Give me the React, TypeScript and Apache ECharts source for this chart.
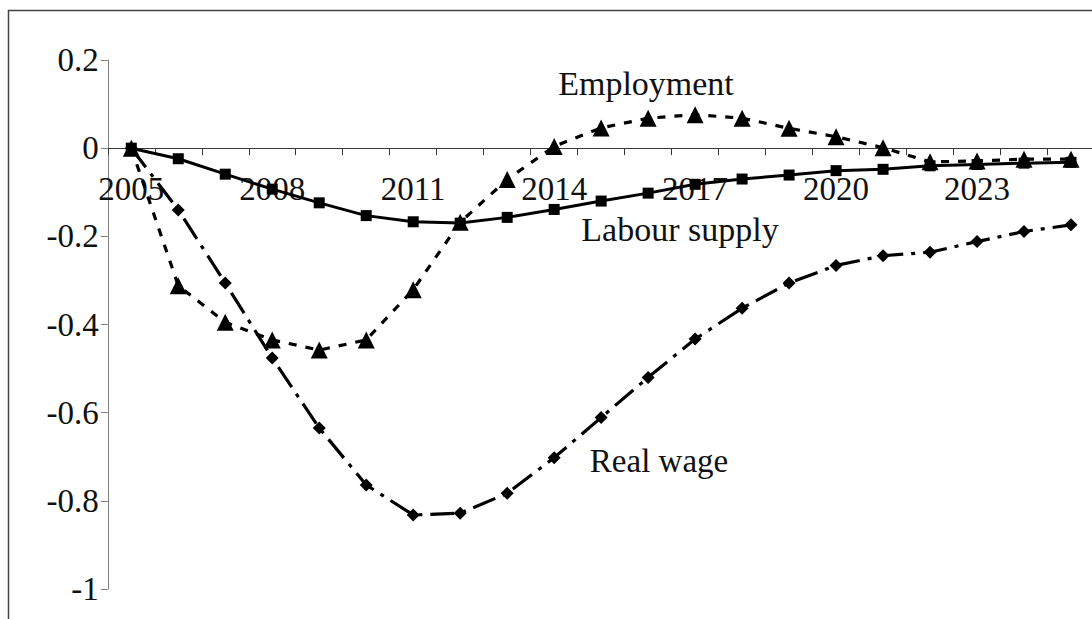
import React, { useEffect, useRef } from "react";
import * as echarts from "echarts";

const years = [
  "2005", "2006", "2007", "2008", "2009", "2010", "2011", "2012", "2013", "2014",
  "2015", "2016", "2017", "2018", "2019", "2020", "2021", "2022", "2023", "2024", "2025",
];

const labourSupply = [
  0, -0.024, -0.059, -0.093, -0.124, -0.153, -0.167, -0.17, -0.157, -0.139,
  -0.12, -0.102, -0.082, -0.07, -0.061, -0.051, -0.048, -0.04, -0.037, -0.034, -0.032,
];

const employment = [
  0, -0.312, -0.395, -0.435, -0.458, -0.435, -0.321, -0.168, -0.071, 0.004,
  0.046, 0.068, 0.076, 0.068, 0.045, 0.026, 0.001, -0.031, -0.029, -0.025, -0.025,
];

const realWage = [
  0, -0.14, -0.306, -0.476, -0.635, -0.764, -0.832, -0.828, -0.783, -0.702,
  -0.611, -0.52, -0.433, -0.363, -0.306, -0.266, -0.244, -0.236, -0.212, -0.189, -0.174,
];

const seriesLabels = ["Employment", "Labour supply", "Real wage"];

const FONT = "'Liberation Serif', 'Times New Roman', serif";

const Y_MIN = -1;
const Y_MAX = 0.2;
const GRID_TOP = 60;
const GRID_BOTTOM = 30;
const GRID_HEIGHT = 619 - GRID_TOP - GRID_BOTTOM;

export default function App() {
  const ref = useRef<HTMLDivElement>(null);

  useEffect(() => {
    if (!ref.current) return;
    const chart = echarts.init(ref.current, null, { renderer: "svg" });
    // move the category axis up to the value 0 line
    const zeroOffset = -(GRID_HEIGHT * (0 - Y_MIN)) / (Y_MAX - Y_MIN);
    chart.setOption({
      animation: false,
      backgroundColor: "#ffffff",
      grid: {
        left: 107.8,
        top: GRID_TOP,
        bottom: GRID_BOTTOM,
        right: -2.5,
        containLabel: false,
        outerBoundsMode: "none",
      },
      xAxis: {
        type: "category",
        data: years,
        boundaryGap: true,
        position: "bottom",
        offset: zeroOffset,
        axisLine: { show: true, onZero: false, lineStyle: { color: "#3a3a3a", width: 1 } },
        axisTick: { show: true, interval: 0, length: 7, lineStyle: { color: "#3a3a3a", width: 1 } },
        axisLabel: {
          interval: 2,
          margin: 24,
          color: "#111",
          fontFamily: FONT,
          fontSize: 33,
          hideOverlap: false,
        },
        splitLine: { show: false },
      },
      yAxis: {
        type: "value",
        min: Y_MIN,
        max: Y_MAX,
        interval: 0.2,
        axisLine: { show: true, onZero: false, lineStyle: { color: "#808080", width: 1 } },
        axisTick: { show: true, length: 7, lineStyle: { color: "#808080", width: 1 } },
        axisLabel: {
          margin: 9,
          color: "#111",
          fontFamily: FONT,
          fontSize: 33,
        },
        splitLine: { show: false },
      },
      series: [
        {
          name: "Real wage",
          type: "line",
          data: realWage,
          symbol: "diamond",
          symbolSize: 13,
          showAllSymbol: true,
          lineStyle: { color: "#000", width: 3.2, type: [24, 8, 4, 8] },
          itemStyle: { color: "#000" },
          z: 2,
        },
        {
          name: "Labour supply",
          type: "line",
          data: labourSupply,
          symbol: "rect",
          symbolSize: 11,
          showAllSymbol: true,
          lineStyle: { color: "#000", width: 3, type: "solid" },
          itemStyle: { color: "#000" },
          z: 3,
        },
        {
          name: "Employment",
          type: "line",
          data: employment,
          symbol: "triangle",
          symbolSize: 17,
          showAllSymbol: true,
          lineStyle: { color: "#000", width: 3.2, type: [8, 9] },
          itemStyle: { color: "#000" },
          z: 4,
        },
      ],
      graphic: [
        {
          type: "rect",
          shape: { x: 8.5, y: 10.5, width: 1300, height: 900 },
          style: { fill: "none", stroke: "#444", lineWidth: 1.5 },
          silent: true,
          z: 0,
        },
        {
          type: "text",
          x: 646,
          y: 83,
          style: {
            text: seriesLabels[0],
            font: `34px ${FONT}`,
            fill: "#111",
            align: "center",
            verticalAlign: "middle",
            textAlign: "center",
            textVerticalAlign: "middle",
          },
          z: 10,
        },
        {
          type: "text",
          x: 680,
          y: 229,
          style: {
            text: seriesLabels[1],
            font: `34px ${FONT}`,
            fill: "#111",
            align: "center",
            verticalAlign: "middle",
            textAlign: "center",
            textVerticalAlign: "middle",
          },
          z: 10,
        },
        {
          type: "text",
          x: 659,
          y: 461,
          style: {
            text: seriesLabels[2],
            font: `33px ${FONT}`,
            fill: "#111",
            align: "center",
            verticalAlign: "middle",
            textAlign: "center",
            textVerticalAlign: "middle",
          },
          z: 10,
        },
      ],
    });
    return () => chart.dispose();
  }, []);

  return (
    <div
      ref={ref}
      style={{ position: "fixed", left: 0, top: 0, width: 1092, height: 619, background: "#fff" }}
    />
  );
}
